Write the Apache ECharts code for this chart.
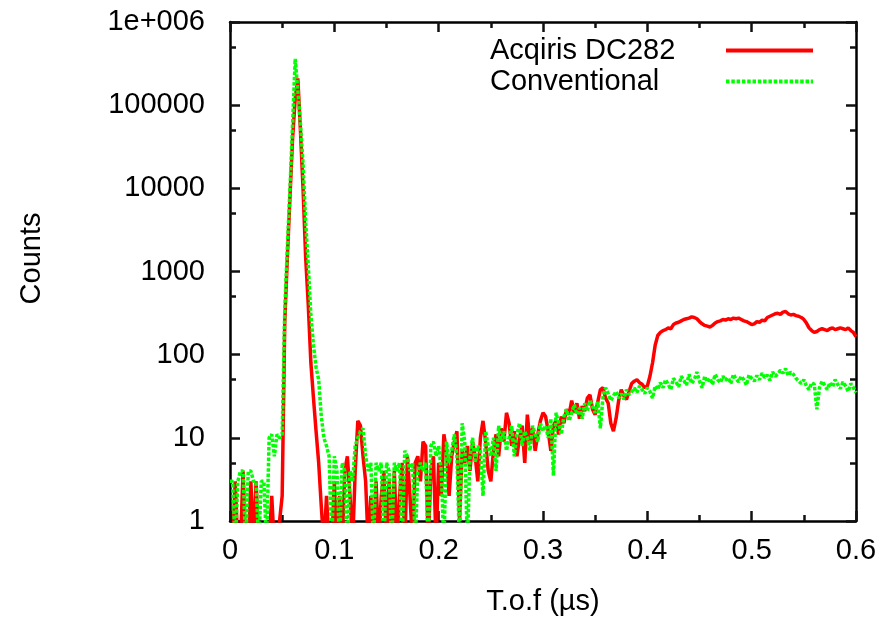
<!DOCTYPE html>
<html><head><meta charset="utf-8">
<script src="https://cdn.jsdelivr.net/npm/echarts@6/dist/echarts.min.js"></script>
<style>html,body{margin:0;padding:0;background:#fff}#c{width:887px;height:621px}</style>
</head><body><div id="c"></div>
<script>
// ---- data ----
const BIN = 0.0025; // histogram bin width (µs)
const seriesNames = ['Acqiris DC282', 'Conventional'];
const xTicks = [0, 0.1, 0.2, 0.3, 0.4, 0.5, 0.6];
const yTicks = [1, 10, 100, 1000, 10000, 100000, 1000000];
const yMinorTicks = [5, 50, 500, 5000, 50000, 500000];
// counts below 1 (empty bins) are stored as 0.5 so they fall under the log axis floor
const acqiris = [
  0.5,0.5,3,0.5,0.5,4,0.5,0.5,3,0.5, 3,0.5,0.5,0.5,0.5,0.5,2,0.5,0.5,1,
  2,250,1500,8000,40000,120000,210000,50000,10000,1500,
  400,80,30,12,5,1.5,0.5,2,0.5,0.5,
  3,0.5,2,0.5,4,6,2,0.5,4,16,
  14,6,3,0.5,2,0.5,3,0.5,2,4,
  0.5,3,0.5,4,0.5,2,5,0.5,6,2,
  0.5,5,6,3,9,8,0.5,4,6,0.5,
  5,2,11,7,2,6,9,12,1,7,
  5,8,4,9,6,3,10,16,9,4,
  3,7,11,6,13,9,20,15,8,12,
  6,10,14,5,19,9,13,7,11,16,
  20,18,12,7,14,16,11,18,15,22,
  19,28,20,26,17,24,21,30,33,22,
  19,27,38,40,30,26,15,12,17,28,
  38,32,29,36,45,48,50,46,44,40,
  42,55,80,130,170,185,195,200,210,205,
  230,240,245,255,265,270,275,285,280,270,
  250,235,225,220,215,225,240,250,255,265,
  260,270,265,275,270,275,265,255,250,240,
  230,235,250,245,260,255,280,290,300,310,
  315,305,325,330,310,300,305,295,290,280,
  265,240,210,195,185,190,200,205,200,195,
  205,210,200,205,210,205,200,210,195,185,
  165
];
const conventional = [
  3,3,0.5,3,4,4,0.5,4,4,3, 3,0.5,3,3,0.5,10,11,6,11,10,
  11,350,2000,10000,60000,360000,150000,60000,20000,4000,
  1200,300,130,70,50,18,10,8,6,0.5,
  6,4,0.5,5,4,0.5,4,3,8,10,
  12,13,6,4,5,0.5,5,4,5,0.5,
  5,4,0.5,5,4,5,0.5,7,6,4,
  5,0.5,4,5,4,5,0.5,8,9,6,
  8,4,0.5,9,5,7,11,6,0.5,15,
  9,0.5,6,10,5,8,7,2,12,8,
  6,10,4,14,9,12,7,10,14,6,
  11,15,8,12,10,7,14,11,9,15,
  12,14,10,17,3.5,20,15,11,18,22,
  16,20,25,19,23,17,26,21,28,24,
  20,27,13,31,40,34,28,32,36,30,
  34,29,38,33,36,40,35,42,38,34,
  40,36,30,42,38,46,40,50,44,38,
  52,47,41,55,49,43,58,45,50,62,
  48,40,55,47,52,44,58,50,46,55,
  49,53,45,58,51,47,55,50,43,57,
  52,48,56,50,60,53,57,49,62,55,
  58,65,60,68,56,62,58,52,48,45,
  50,42,38,46,44,22,40,48,43,38,
  46,41,50,44,39,47,42,36,45,40,
  35
];

// ---- chart ----
const FONT = 'Liberation Sans, Arial, sans-serif';
const FS = 29;
const toPairs = arr => arr.map((v, i) => [+(i * BIN).toFixed(4), v]);
const BLACK = '#000000';
const TICK = '#111111';
const mkLine = () => ({ show: true, lineStyle: { color: BLACK, width: 2.5 } });
const mkTick = (len, vals) => {
  const t = { show: true, inside: true, length: len, lineStyle: { color: TICK, width: 2.5 } };
  if (vals) t.customValues = vals;
  return t;
};
const xAxisBase = pos => ({
  type: 'value', min: xTicks[0], max: xTicks[xTicks.length - 1], interval: 0.1, position: pos,
  axisLine: mkLine(), splitLine: { show: false },
  axisTick: mkTick(10),
  minorTick: { show: true, splitNumber: 2, length: 6, lineStyle: { color: TICK, width: 2.5 } },
  minorSplitLine: { show: false }
});
const yAxisBase = (pos, tick, line) => ({
  type: 'log', logBase: 10, min: yTicks[0], max: yTicks[yTicks.length - 1], position: pos,
  axisLine: line ? mkLine() : { show: false }, splitLine: { show: false },
  axisTick: tick, axisLabel: { show: false }
});

const xBottom = xAxisBase('bottom');
xBottom.axisLabel = { show: true, margin: 15, color: BLACK, fontSize: FS, fontFamily: FONT,
  formatter: v => String(Math.round(v * 10) / 10) };
xBottom.name = 'T.o.f (µs)';
xBottom.nameLocation = 'middle';
xBottom.nameGap = 66;
xBottom.nameTextStyle = { color: BLACK, fontSize: FS, fontFamily: FONT };
const xTop = xAxisBase('top');
xTop.axisLabel = { show: false };

const yLeft = yAxisBase('left', mkTick(10, yTicks), true);
yLeft.axisLabel = { show: true, margin: 25, color: BLACK, fontSize: FS, fontFamily: FONT, customValues: yTicks,
  formatter: v => { const r = Math.round(v); return r === 1000000 ? '1e+006' : String(r); } };
yLeft.name = 'Counts';
yLeft.nameLocation = 'middle';
yLeft.nameGap = 184;
yLeft.nameRotate = 90;
yLeft.nameTextStyle = { color: BLACK, fontSize: FS, fontFamily: FONT, padding: [0, 0, 0, 26] };

const option = {
  animation: false,
  backgroundColor: '#fff',
  textStyle: { fontFamily: FONT },
  grid: { left: 230, right: 31, top: 22, bottom: 100 },
  legend: {
    orient: 'vertical', right: 67, top: 31, align: 'right',
    itemWidth: 87, itemHeight: 14, itemGap: 2,
    itemStyle: { opacity: 0 },
    lineStyle: { width: 4 },
    data: seriesNames,
    formatter: n => '{a|' + n + '}',
    textStyle: { color: BLACK, fontFamily: FONT, fontSize: FS,
      rich: { a: { width: 231, align: 'left', fontSize: FS, fontFamily: FONT, color: BLACK } } }
  },
  xAxis: [xBottom, xTop],
  yAxis: [
    yLeft,
    yAxisBase('left', mkTick(6, yMinorTicks), false),
    yAxisBase('right', mkTick(10, yTicks), true),
    yAxisBase('right', mkTick(6, yMinorTicks), false)
  ],
  series: [
    { name: seriesNames[0], type: 'line', data: toPairs(acqiris), xAxisIndex: 0, yAxisIndex: 0,
      showSymbol: false, symbol: 'none', clip: true, color: '#ff0000',
      lineStyle: { color: '#ff0000', width: 3.5 } },
    { name: seriesNames[1], type: 'line', data: toPairs(conventional), xAxisIndex: 0, yAxisIndex: 0,
      showSymbol: false, symbol: 'none', clip: true, color: '#00ff00',
      lineStyle: { color: '#00ff00', width: 3.5, type: [3.5, 1.8] } }
  ]
};
const chart = echarts.init(document.getElementById('c'), null, { renderer: 'canvas' });
chart.setOption(option);
</script>
</body></html>
